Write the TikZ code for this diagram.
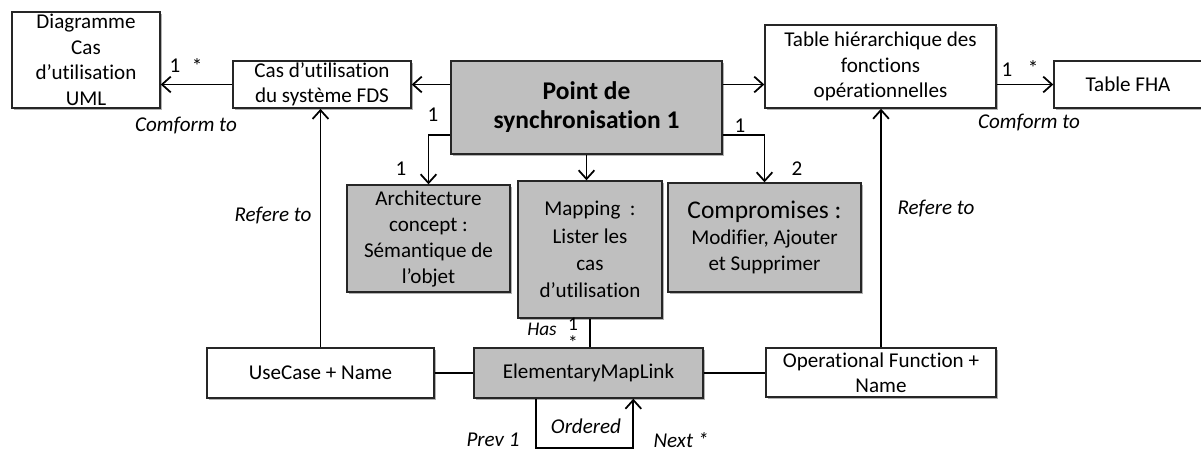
\documentclass[tikz,border=0pt]{standalone}
\usepackage{fontspec}
\setmainfont{Carlito}[Ligatures=NoCommon]
\usepackage{tikz}
\usetikzlibrary{arrows.meta, positioning, calc, shadows}
\tikzset{
  plain_box/.style={rectangle, draw=black!85, fill=white, line width=0.8pt, align=center, inner sep=1pt, font=\fontsize{12}{14.5}\selectfont, drop shadow={shadow xshift=1.2pt, shadow yshift=-1.2pt, fill=black, opacity=0.3}},
  sync_box/.style={plain_box, fill=gray!50},
  arrow/.style={-{Straight Barb[length=5pt, width=9pt]}, line width=1pt, black},
  connect/.style={-, line width=1pt, black},
  mult_text/.style={font=\fontsize{12}{14}\selectfont, inner sep=0pt},
  role_text/.style={font=\fontsize{12}{14}\selectfont\itshape, inner sep=0pt}
}

\begin{document}
\begin{tikzpicture}[x=0.02cm, y=-0.02cm]
  \useasboundingbox (0,0) rectangle (1201,451);

  % --- Top row ---
  \node[plain_box, minimum width=2.96cm, minimum height=1.92cm] (diagUML) at (86,60) {Diagramme\\Cas\\d’utilisation\\UML};
  \node[plain_box, minimum width=3.56cm, minimum height=0.94cm] (casFDS) at (322,84.5) {Cas d’utilisation\\du système FDS};
  \node[sync_box, minimum width=5.42cm, minimum height=1.86cm, font=\fontsize{14.5}{16.5}\selectfont\bfseries] (sync) at (586.5,107.5) {Point de\\synchronisation 1};
  \node[plain_box, minimum width=4.62cm, minimum height=1.66cm] (tableHier) at (880.5,66.5) {Table hiérarchique des\\fonctions\\opérationnelles};
  \node[plain_box, minimum width=2.96cm, minimum height=0.94cm] (tableFHA) at (1128,84.5) {Table FHA};

  % --- Middle row ---
  \node[sync_box, minimum width=3.26cm, minimum height=2.14cm, font=\fontsize{12}{14.8}\selectfont] (archi) at (428.5,238.5) {Architecture\\concept :\\Sémantique de\\l’objet};
  \node[sync_box, minimum width=2.88cm, minimum height=2.74cm, font=\fontsize{12}{15.5}\selectfont] (mapping) at (590,249.5) {Mapping~ :\\Lister les\\cas\\d’utilisation};
  \node[sync_box, minimum width=3.86cm, minimum height=2.18cm, font=\fontsize{12}{15}\selectfont] (compromis) at (764.5,237.5) {{\fontsize{14.5}{16}\selectfont Compromises :}\\Modifier, Ajouter\\et Supprimer};

  % --- Bottom row ---
  \node[plain_box, minimum width=4.54cm, minimum height=1cm] (useCase) at (320.5,373) {UseCase + Name};
  \node[sync_box, minimum width=4.58cm, minimum height=1cm] (mapLink) at (588.5,373) {ElementaryMapLink};
  \node[plain_box, minimum width=4.6cm, minimum height=0.98cm] (opFunc) at (881,372.5) {Operational Function +\\Name};

  % --- Connections ---
  \draw[arrow] (casFDS.west) -- (casFDS.west -| diagUML.east);
  \draw[arrow] (casFDS.east -| sync.west) -- (casFDS.east);
  \draw[arrow] (casFDS.east -| sync.east) -- (casFDS.east -| tableHier.west);
  \draw[arrow] (tableFHA.west -| tableHier.east) -- (tableFHA.west);
  \draw[arrow] ($(sync.south west)+(0,-20)$) -| (archi.north);
  \draw[arrow] (sync.south) -- (sync.south |- mapping.north);
  \draw[arrow] ($(sync.south east)+(0,-20)$) -| (compromis.north);
  \draw[arrow] (useCase.north) -- (useCase.north |- casFDS.south);
  \draw[arrow] (opFunc.north) -- (opFunc.north |- tableHier.south);
  \draw[connect] (useCase) -- (mapLink);
  \draw[connect] (mapLink.east) -- (mapLink.east -| opFunc.west);
  \draw[connect] (mapping.south) -- (mapping.south |- mapLink.north);

  % loop under the map link
  \coordinate (loopL) at ($(mapLink.south west)+(63,49)$);
  \coordinate (loopR) at ($(mapLink.south west)+(160,49)$);
  \draw[arrow] (mapLink.south -| loopL) -- (loopL) -- (loopR) -- (mapLink.south -| loopR);

  % --- Labels ---
  \node[mult_text] (diagOne) at (175,66) {1};
  \node[mult_text] (diagStar) at (197,66) {*};
  \node[role_text] (diagConf) at (186,125) {Comform to};
  \node[mult_text] (syncOneA) at (433,115) {1};
  \node[mult_text] (archiOne) at (401,169) {1};
  \node[mult_text] (syncOneB) at (740,126) {1};
  \node[mult_text] (compTwo) at (797,169) {2};
  \node[mult_text] (fhaOne) at (1007,70) {1};
  \node[mult_text] (fhaStar) at (1033,68) {*};
  \node[role_text] (fhaConf) at (1029,123) {Comform to};
  \node[role_text] (useRef) at (273,215) {Refere to};
  \node[role_text] (opRef) at (936,208) {Refere to};
  \node[role_text, font=\fontsize{11}{13}\selectfont\itshape] (hasText) at (542,329) {Has};
  \node[mult_text, font=\fontsize{11}{13}\selectfont] (hasOne) at (573,324) {1};
  \node[mult_text, font=\fontsize{11}{13}\selectfont] (hasStar) at (573,343) {*};
  \node[role_text] (ordText) at (586,426) {Ordered};
  \node[role_text] (prevText) at (493,440) {Prev 1};
  \node[role_text] (nextText) at (681,440) {Next *};
\end{tikzpicture}
\end{document}
